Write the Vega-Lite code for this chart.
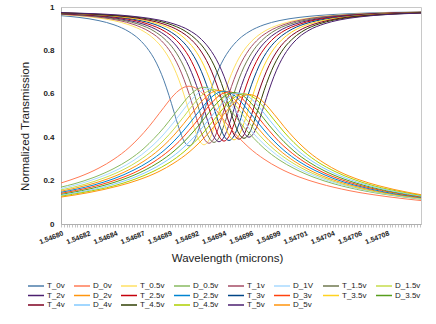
{
"$schema":"https://vega.github.io/schema/vega-lite/v6.json",
"width":360,"height":217,
"autosize":{"type":"none"},
"padding":{"left":61,"top":7,"right":15,"bottom":100},
"background":"white",
"config":{"font":"Liberation Sans","view":{"stroke":"#c8c8c8"}},
"data":{"values":[
{"tn":"T_0v","dn":"D_0v","x":1.5467965,"t":0.960,"d":0.189},
{"tn":"T_0v","dn":"D_0v","x":1.54681234,"t":0.952,"d":0.217},
{"tn":"T_0v","dn":"D_0v","x":1.54682994,"t":0.937,"d":0.258},
{"tn":"T_0v","dn":"D_0v","x":1.54684314,"t":0.918,"d":0.299},
{"tn":"T_0v","dn":"D_0v","x":1.54685634,"t":0.886,"d":0.352},
{"tn":"T_0v","dn":"D_0v","x":1.54686514,"t":0.852,"d":0.397},
{"tn":"T_0v","dn":"D_0v","x":1.54687394,"t":0.799,"d":0.449},
{"tn":"T_0v","dn":"D_0v","x":1.54687834,"t":0.763,"d":0.478},
{"tn":"T_0v","dn":"D_0v","x":1.54688274,"t":0.717,"d":0.508},
{"tn":"T_0v","dn":"D_0v","x":1.54688714,"t":0.660,"d":0.538},
{"tn":"T_0v","dn":"D_0v","x":1.54689154,"t":0.592,"d":0.568},
{"tn":"T_0v","dn":"D_0v","x":1.54689594,"t":0.516,"d":0.595},
{"tn":"T_0v","dn":"D_0v","x":1.54690034,"t":0.441,"d":0.616},
{"tn":"T_0v","dn":"D_0v","x":1.54690474,"t":0.382,"d":0.630},
{"tn":"T_0v","dn":"D_0v","x":1.54690914,"t":0.360,"d":0.635},
{"tn":"T_0v","dn":"D_0v","x":1.54691354,"t":0.382,"d":0.630},
{"tn":"T_0v","dn":"D_0v","x":1.54691794,"t":0.441,"d":0.616},
{"tn":"T_0v","dn":"D_0v","x":1.54692234,"t":0.516,"d":0.595},
{"tn":"T_0v","dn":"D_0v","x":1.54692674,"t":0.592,"d":0.568},
{"tn":"T_0v","dn":"D_0v","x":1.54693114,"t":0.660,"d":0.538},
{"tn":"T_0v","dn":"D_0v","x":1.54693554,"t":0.717,"d":0.508},
{"tn":"T_0v","dn":"D_0v","x":1.54693994,"t":0.763,"d":0.478},
{"tn":"T_0v","dn":"D_0v","x":1.54694434,"t":0.799,"d":0.449},
{"tn":"T_0v","dn":"D_0v","x":1.54695314,"t":0.852,"d":0.397},
{"tn":"T_0v","dn":"D_0v","x":1.54696194,"t":0.886,"d":0.352},
{"tn":"T_0v","dn":"D_0v","x":1.54697514,"t":0.918,"d":0.299},
{"tn":"T_0v","dn":"D_0v","x":1.54698834,"t":0.937,"d":0.258},
{"tn":"T_0v","dn":"D_0v","x":1.54700594,"t":0.952,"d":0.217},
{"tn":"T_0v","dn":"D_0v","x":1.54702354,"t":0.961,"d":0.187},
{"tn":"T_0v","dn":"D_0v","x":1.54704994,"t":0.969,"d":0.154},
{"tn":"T_0v","dn":"D_0v","x":1.54708514,"t":0.975,"d":0.125},
{"tn":"T_0v","dn":"D_0v","x":1.5471133,"t":0.977,"d":0.108},
{"tn":"T_0.5v","dn":"D_0.5v","x":1.5467965,"t":0.965,"d":0.170},
{"tn":"T_0.5v","dn":"D_0.5v","x":1.54680794,"t":0.961,"d":0.185},
{"tn":"T_0.5v","dn":"D_0.5v","x":1.54682554,"t":0.952,"d":0.215},
{"tn":"T_0.5v","dn":"D_0.5v","x":1.54684314,"t":0.937,"d":0.256},
{"tn":"T_0.5v","dn":"D_0.5v","x":1.54685634,"t":0.918,"d":0.296},
{"tn":"T_0.5v","dn":"D_0.5v","x":1.54686954,"t":0.887,"d":0.349},
{"tn":"T_0.5v","dn":"D_0.5v","x":1.54687834,"t":0.853,"d":0.394},
{"tn":"T_0.5v","dn":"D_0.5v","x":1.54688714,"t":0.801,"d":0.445},
{"tn":"T_0.5v","dn":"D_0.5v","x":1.54689154,"t":0.765,"d":0.474},
{"tn":"T_0.5v","dn":"D_0.5v","x":1.54689594,"t":0.719,"d":0.504},
{"tn":"T_0.5v","dn":"D_0.5v","x":1.54690034,"t":0.663,"d":0.534},
{"tn":"T_0.5v","dn":"D_0.5v","x":1.54690474,"t":0.595,"d":0.563},
{"tn":"T_0.5v","dn":"D_0.5v","x":1.54690914,"t":0.520,"d":0.590},
{"tn":"T_0.5v","dn":"D_0.5v","x":1.54691354,"t":0.445,"d":0.611},
{"tn":"T_0.5v","dn":"D_0.5v","x":1.54691794,"t":0.387,"d":0.625},
{"tn":"T_0.5v","dn":"D_0.5v","x":1.54692234,"t":0.365,"d":0.630},
{"tn":"T_0.5v","dn":"D_0.5v","x":1.54692674,"t":0.387,"d":0.625},
{"tn":"T_0.5v","dn":"D_0.5v","x":1.54693114,"t":0.445,"d":0.611},
{"tn":"T_0.5v","dn":"D_0.5v","x":1.54693554,"t":0.520,"d":0.590},
{"tn":"T_0.5v","dn":"D_0.5v","x":1.54693994,"t":0.595,"d":0.563},
{"tn":"T_0.5v","dn":"D_0.5v","x":1.54694434,"t":0.663,"d":0.534},
{"tn":"T_0.5v","dn":"D_0.5v","x":1.54694874,"t":0.719,"d":0.504},
{"tn":"T_0.5v","dn":"D_0.5v","x":1.54695314,"t":0.765,"d":0.474},
{"tn":"T_0.5v","dn":"D_0.5v","x":1.54695754,"t":0.801,"d":0.445},
{"tn":"T_0.5v","dn":"D_0.5v","x":1.54696634,"t":0.853,"d":0.394},
{"tn":"T_0.5v","dn":"D_0.5v","x":1.54697514,"t":0.887,"d":0.349},
{"tn":"T_0.5v","dn":"D_0.5v","x":1.54698834,"t":0.918,"d":0.296},
{"tn":"T_0.5v","dn":"D_0.5v","x":1.54700154,"t":0.937,"d":0.256},
{"tn":"T_0.5v","dn":"D_0.5v","x":1.54701914,"t":0.952,"d":0.215},
{"tn":"T_0.5v","dn":"D_0.5v","x":1.54703674,"t":0.961,"d":0.185},
{"tn":"T_0.5v","dn":"D_0.5v","x":1.54706314,"t":0.969,"d":0.153},
{"tn":"T_0.5v","dn":"D_0.5v","x":1.54709834,"t":0.975,"d":0.124},
{"tn":"T_0.5v","dn":"D_0.5v","x":1.5471133,"t":0.976,"d":0.114},
{"tn":"T_1v","dn":"D_1V","x":1.5467965,"t":0.967,"d":0.163},
{"tn":"T_1v","dn":"D_1V","x":1.54681234,"t":0.961,"d":0.184},
{"tn":"T_1v","dn":"D_1V","x":1.54682994,"t":0.953,"d":0.214},
{"tn":"T_1v","dn":"D_1V","x":1.54684754,"t":0.938,"d":0.254},
{"tn":"T_1v","dn":"D_1V","x":1.54686074,"t":0.919,"d":0.294},
{"tn":"T_1v","dn":"D_1V","x":1.54687394,"t":0.888,"d":0.347},
{"tn":"T_1v","dn":"D_1V","x":1.54688274,"t":0.855,"d":0.390},
{"tn":"T_1v","dn":"D_1V","x":1.54689154,"t":0.803,"d":0.442},
{"tn":"T_1v","dn":"D_1V","x":1.54689594,"t":0.767,"d":0.470},
{"tn":"T_1v","dn":"D_1V","x":1.54690034,"t":0.722,"d":0.500},
{"tn":"T_1v","dn":"D_1V","x":1.54690474,"t":0.666,"d":0.530},
{"tn":"T_1v","dn":"D_1V","x":1.54690914,"t":0.600,"d":0.559},
{"tn":"T_1v","dn":"D_1V","x":1.54691354,"t":0.525,"d":0.585},
{"tn":"T_1v","dn":"D_1V","x":1.54691794,"t":0.451,"d":0.606},
{"tn":"T_1v","dn":"D_1V","x":1.54692234,"t":0.394,"d":0.620},
{"tn":"T_1v","dn":"D_1V","x":1.54692674,"t":0.372,"d":0.625},
{"tn":"T_1v","dn":"D_1V","x":1.54693114,"t":0.394,"d":0.620},
{"tn":"T_1v","dn":"D_1V","x":1.54693554,"t":0.451,"d":0.606},
{"tn":"T_1v","dn":"D_1V","x":1.54693994,"t":0.525,"d":0.585},
{"tn":"T_1v","dn":"D_1V","x":1.54694434,"t":0.600,"d":0.559},
{"tn":"T_1v","dn":"D_1V","x":1.54694874,"t":0.666,"d":0.530},
{"tn":"T_1v","dn":"D_1V","x":1.54695314,"t":0.722,"d":0.500},
{"tn":"T_1v","dn":"D_1V","x":1.54695754,"t":0.767,"d":0.470},
{"tn":"T_1v","dn":"D_1V","x":1.54696194,"t":0.803,"d":0.442},
{"tn":"T_1v","dn":"D_1V","x":1.54697074,"t":0.855,"d":0.390},
{"tn":"T_1v","dn":"D_1V","x":1.54697954,"t":0.888,"d":0.347},
{"tn":"T_1v","dn":"D_1V","x":1.54699274,"t":0.919,"d":0.294},
{"tn":"T_1v","dn":"D_1V","x":1.54700594,"t":0.938,"d":0.254},
{"tn":"T_1v","dn":"D_1V","x":1.54702354,"t":0.953,"d":0.214},
{"tn":"T_1v","dn":"D_1V","x":1.54704114,"t":0.961,"d":0.184},
{"tn":"T_1v","dn":"D_1V","x":1.54706754,"t":0.969,"d":0.152},
{"tn":"T_1v","dn":"D_1V","x":1.54710274,"t":0.975,"d":0.123},
{"tn":"T_1v","dn":"D_1V","x":1.5471133,"t":0.976,"d":0.116},
{"tn":"T_1.5v","dn":"D_1.5v","x":1.5467965,"t":0.968,"d":0.157},
{"tn":"T_1.5v","dn":"D_1.5v","x":1.54681674,"t":0.962,"d":0.182},
{"tn":"T_1.5v","dn":"D_1.5v","x":1.54683434,"t":0.953,"d":0.212},
{"tn":"T_1.5v","dn":"D_1.5v","x":1.54685194,"t":0.938,"d":0.252},
{"tn":"T_1.5v","dn":"D_1.5v","x":1.54686514,"t":0.920,"d":0.292},
{"tn":"T_1.5v","dn":"D_1.5v","x":1.54687834,"t":0.889,"d":0.344},
{"tn":"T_1.5v","dn":"D_1.5v","x":1.54688714,"t":0.855,"d":0.387},
{"tn":"T_1.5v","dn":"D_1.5v","x":1.54689594,"t":0.804,"d":0.438},
{"tn":"T_1.5v","dn":"D_1.5v","x":1.54690034,"t":0.768,"d":0.467},
{"tn":"T_1.5v","dn":"D_1.5v","x":1.54690474,"t":0.724,"d":0.496},
{"tn":"T_1.5v","dn":"D_1.5v","x":1.54690914,"t":0.669,"d":0.526},
{"tn":"T_1.5v","dn":"D_1.5v","x":1.54691354,"t":0.602,"d":0.555},
{"tn":"T_1.5v","dn":"D_1.5v","x":1.54691794,"t":0.528,"d":0.581},
{"tn":"T_1.5v","dn":"D_1.5v","x":1.54692234,"t":0.455,"d":0.601},
{"tn":"T_1.5v","dn":"D_1.5v","x":1.54692674,"t":0.398,"d":0.615},
{"tn":"T_1.5v","dn":"D_1.5v","x":1.54693114,"t":0.376,"d":0.620},
{"tn":"T_1.5v","dn":"D_1.5v","x":1.54693554,"t":0.398,"d":0.615},
{"tn":"T_1.5v","dn":"D_1.5v","x":1.54693994,"t":0.455,"d":0.601},
{"tn":"T_1.5v","dn":"D_1.5v","x":1.54694434,"t":0.528,"d":0.581},
{"tn":"T_1.5v","dn":"D_1.5v","x":1.54694874,"t":0.602,"d":0.555},
{"tn":"T_1.5v","dn":"D_1.5v","x":1.54695314,"t":0.669,"d":0.526},
{"tn":"T_1.5v","dn":"D_1.5v","x":1.54695754,"t":0.724,"d":0.496},
{"tn":"T_1.5v","dn":"D_1.5v","x":1.54696194,"t":0.768,"d":0.467},
{"tn":"T_1.5v","dn":"D_1.5v","x":1.54696634,"t":0.804,"d":0.438},
{"tn":"T_1.5v","dn":"D_1.5v","x":1.54697514,"t":0.855,"d":0.387},
{"tn":"T_1.5v","dn":"D_1.5v","x":1.54698394,"t":0.889,"d":0.344},
{"tn":"T_1.5v","dn":"D_1.5v","x":1.54699714,"t":0.920,"d":0.292},
{"tn":"T_1.5v","dn":"D_1.5v","x":1.54701034,"t":0.938,"d":0.252},
{"tn":"T_1.5v","dn":"D_1.5v","x":1.54702794,"t":0.953,"d":0.212},
{"tn":"T_1.5v","dn":"D_1.5v","x":1.54704554,"t":0.962,"d":0.182},
{"tn":"T_1.5v","dn":"D_1.5v","x":1.54707194,"t":0.969,"d":0.150},
{"tn":"T_1.5v","dn":"D_1.5v","x":1.54710714,"t":0.975,"d":0.122},
{"tn":"T_1.5v","dn":"D_1.5v","x":1.5471133,"t":0.976,"d":0.118},
{"tn":"T_2v","dn":"D_2v","x":1.5467965,"t":0.969,"d":0.151},
{"tn":"T_2v","dn":"D_2v","x":1.54682114,"t":0.962,"d":0.181},
{"tn":"T_2v","dn":"D_2v","x":1.54683874,"t":0.953,"d":0.210},
{"tn":"T_2v","dn":"D_2v","x":1.54685634,"t":0.938,"d":0.250},
{"tn":"T_2v","dn":"D_2v","x":1.54686954,"t":0.920,"d":0.290},
{"tn":"T_2v","dn":"D_2v","x":1.54688274,"t":0.889,"d":0.342},
{"tn":"T_2v","dn":"D_2v","x":1.54689154,"t":0.856,"d":0.385},
{"tn":"T_2v","dn":"D_2v","x":1.54690034,"t":0.805,"d":0.436},
{"tn":"T_2v","dn":"D_2v","x":1.54690474,"t":0.770,"d":0.464},
{"tn":"T_2v","dn":"D_2v","x":1.54690914,"t":0.725,"d":0.493},
{"tn":"T_2v","dn":"D_2v","x":1.54691354,"t":0.670,"d":0.522},
{"tn":"T_2v","dn":"D_2v","x":1.54691794,"t":0.604,"d":0.551},
{"tn":"T_2v","dn":"D_2v","x":1.54692234,"t":0.530,"d":0.577},
{"tn":"T_2v","dn":"D_2v","x":1.54692674,"t":0.457,"d":0.598},
{"tn":"T_2v","dn":"D_2v","x":1.54693114,"t":0.401,"d":0.611},
{"tn":"T_2v","dn":"D_2v","x":1.54693554,"t":0.379,"d":0.616},
{"tn":"T_2v","dn":"D_2v","x":1.54693994,"t":0.401,"d":0.611},
{"tn":"T_2v","dn":"D_2v","x":1.54694434,"t":0.457,"d":0.598},
{"tn":"T_2v","dn":"D_2v","x":1.54694874,"t":0.530,"d":0.577},
{"tn":"T_2v","dn":"D_2v","x":1.54695314,"t":0.604,"d":0.551},
{"tn":"T_2v","dn":"D_2v","x":1.54695754,"t":0.670,"d":0.522},
{"tn":"T_2v","dn":"D_2v","x":1.54696194,"t":0.725,"d":0.493},
{"tn":"T_2v","dn":"D_2v","x":1.54696634,"t":0.770,"d":0.464},
{"tn":"T_2v","dn":"D_2v","x":1.54697074,"t":0.805,"d":0.436},
{"tn":"T_2v","dn":"D_2v","x":1.54697954,"t":0.856,"d":0.385},
{"tn":"T_2v","dn":"D_2v","x":1.54698834,"t":0.889,"d":0.342},
{"tn":"T_2v","dn":"D_2v","x":1.54700154,"t":0.920,"d":0.290},
{"tn":"T_2v","dn":"D_2v","x":1.54701474,"t":0.938,"d":0.250},
{"tn":"T_2v","dn":"D_2v","x":1.54703234,"t":0.953,"d":0.210},
{"tn":"T_2v","dn":"D_2v","x":1.54704994,"t":0.962,"d":0.181},
{"tn":"T_2v","dn":"D_2v","x":1.54707634,"t":0.969,"d":0.149},
{"tn":"T_2v","dn":"D_2v","x":1.5471133,"t":0.975,"d":0.120},
{"tn":"T_2.5v","dn":"D_2.5v","x":1.5467965,"t":0.970,"d":0.146},
{"tn":"T_2.5v","dn":"D_2.5v","x":1.54682554,"t":0.962,"d":0.180},
{"tn":"T_2.5v","dn":"D_2.5v","x":1.54684314,"t":0.953,"d":0.209},
{"tn":"T_2.5v","dn":"D_2.5v","x":1.54686074,"t":0.939,"d":0.249},
{"tn":"T_2.5v","dn":"D_2.5v","x":1.54687394,"t":0.920,"d":0.288},
{"tn":"T_2.5v","dn":"D_2.5v","x":1.54688714,"t":0.890,"d":0.339},
{"tn":"T_2.5v","dn":"D_2.5v","x":1.54689594,"t":0.857,"d":0.382},
{"tn":"T_2.5v","dn":"D_2.5v","x":1.54690474,"t":0.806,"d":0.433},
{"tn":"T_2.5v","dn":"D_2.5v","x":1.54690914,"t":0.771,"d":0.461},
{"tn":"T_2.5v","dn":"D_2.5v","x":1.54691354,"t":0.726,"d":0.490},
{"tn":"T_2.5v","dn":"D_2.5v","x":1.54691794,"t":0.672,"d":0.519},
{"tn":"T_2.5v","dn":"D_2.5v","x":1.54692234,"t":0.606,"d":0.547},
{"tn":"T_2.5v","dn":"D_2.5v","x":1.54692674,"t":0.533,"d":0.573},
{"tn":"T_2.5v","dn":"D_2.5v","x":1.54693114,"t":0.460,"d":0.594},
{"tn":"T_2.5v","dn":"D_2.5v","x":1.54693554,"t":0.404,"d":0.607},
{"tn":"T_2.5v","dn":"D_2.5v","x":1.54693994,"t":0.382,"d":0.612},
{"tn":"T_2.5v","dn":"D_2.5v","x":1.54694434,"t":0.404,"d":0.607},
{"tn":"T_2.5v","dn":"D_2.5v","x":1.54694874,"t":0.460,"d":0.594},
{"tn":"T_2.5v","dn":"D_2.5v","x":1.54695314,"t":0.533,"d":0.573},
{"tn":"T_2.5v","dn":"D_2.5v","x":1.54695754,"t":0.606,"d":0.547},
{"tn":"T_2.5v","dn":"D_2.5v","x":1.54696194,"t":0.672,"d":0.519},
{"tn":"T_2.5v","dn":"D_2.5v","x":1.54696634,"t":0.726,"d":0.490},
{"tn":"T_2.5v","dn":"D_2.5v","x":1.54697074,"t":0.771,"d":0.461},
{"tn":"T_2.5v","dn":"D_2.5v","x":1.54697514,"t":0.806,"d":0.433},
{"tn":"T_2.5v","dn":"D_2.5v","x":1.54698394,"t":0.857,"d":0.382},
{"tn":"T_2.5v","dn":"D_2.5v","x":1.54699274,"t":0.890,"d":0.339},
{"tn":"T_2.5v","dn":"D_2.5v","x":1.54700594,"t":0.920,"d":0.288},
{"tn":"T_2.5v","dn":"D_2.5v","x":1.54701914,"t":0.939,"d":0.249},
{"tn":"T_2.5v","dn":"D_2.5v","x":1.54703674,"t":0.953,"d":0.209},
{"tn":"T_2.5v","dn":"D_2.5v","x":1.54705434,"t":0.962,"d":0.180},
{"tn":"T_2.5v","dn":"D_2.5v","x":1.54708074,"t":0.970,"d":0.148},
{"tn":"T_2.5v","dn":"D_2.5v","x":1.5471133,"t":0.975,"d":0.122},
{"tn":"T_3v","dn":"D_3v","x":1.5467965,"t":0.971,"d":0.141},
{"tn":"T_3v","dn":"D_3v","x":1.54680354,"t":0.970,"d":0.148},
{"tn":"T_3v","dn":"D_3v","x":1.54682994,"t":0.962,"d":0.179},
{"tn":"T_3v","dn":"D_3v","x":1.54684754,"t":0.953,"d":0.208},
{"tn":"T_3v","dn":"D_3v","x":1.54686514,"t":0.939,"d":0.247},
{"tn":"T_3v","dn":"D_3v","x":1.54687834,"t":0.921,"d":0.287},
{"tn":"T_3v","dn":"D_3v","x":1.54689154,"t":0.890,"d":0.338},
{"tn":"T_3v","dn":"D_3v","x":1.54690034,"t":0.857,"d":0.380},
{"tn":"T_3v","dn":"D_3v","x":1.54690914,"t":0.807,"d":0.431},
{"tn":"T_3v","dn":"D_3v","x":1.54691354,"t":0.772,"d":0.458},
{"tn":"T_3v","dn":"D_3v","x":1.54691794,"t":0.728,"d":0.487},
{"tn":"T_3v","dn":"D_3v","x":1.54692234,"t":0.673,"d":0.516},
{"tn":"T_3v","dn":"D_3v","x":1.54692674,"t":0.608,"d":0.545},
{"tn":"T_3v","dn":"D_3v","x":1.54693114,"t":0.535,"d":0.570},
{"tn":"T_3v","dn":"D_3v","x":1.54693554,"t":0.462,"d":0.591},
{"tn":"T_3v","dn":"D_3v","x":1.54693994,"t":0.406,"d":0.604},
{"tn":"T_3v","dn":"D_3v","x":1.54694434,"t":0.385,"d":0.609},
{"tn":"T_3v","dn":"D_3v","x":1.54694874,"t":0.406,"d":0.604},
{"tn":"T_3v","dn":"D_3v","x":1.54695314,"t":0.462,"d":0.591},
{"tn":"T_3v","dn":"D_3v","x":1.54695754,"t":0.535,"d":0.570},
{"tn":"T_3v","dn":"D_3v","x":1.54696194,"t":0.608,"d":0.545},
{"tn":"T_3v","dn":"D_3v","x":1.54696634,"t":0.673,"d":0.516},
{"tn":"T_3v","dn":"D_3v","x":1.54697074,"t":0.728,"d":0.487},
{"tn":"T_3v","dn":"D_3v","x":1.54697514,"t":0.772,"d":0.458},
{"tn":"T_3v","dn":"D_3v","x":1.54697954,"t":0.807,"d":0.431},
{"tn":"T_3v","dn":"D_3v","x":1.54698834,"t":0.857,"d":0.380},
{"tn":"T_3v","dn":"D_3v","x":1.54699714,"t":0.890,"d":0.338},
{"tn":"T_3v","dn":"D_3v","x":1.54701034,"t":0.921,"d":0.287},
{"tn":"T_3v","dn":"D_3v","x":1.54702354,"t":0.939,"d":0.247},
{"tn":"T_3v","dn":"D_3v","x":1.54704114,"t":0.953,"d":0.208},
{"tn":"T_3v","dn":"D_3v","x":1.54705874,"t":0.962,"d":0.179},
{"tn":"T_3v","dn":"D_3v","x":1.54708514,"t":0.970,"d":0.148},
{"tn":"T_3v","dn":"D_3v","x":1.5471133,"t":0.974,"d":0.124},
{"tn":"T_3.5v","dn":"D_3.5v","x":1.5467965,"t":0.972,"d":0.136},
{"tn":"T_3.5v","dn":"D_3.5v","x":1.54680794,"t":0.970,"d":0.147},
{"tn":"T_3.5v","dn":"D_3.5v","x":1.54683434,"t":0.962,"d":0.178},
{"tn":"T_3.5v","dn":"D_3.5v","x":1.54685194,"t":0.953,"d":0.207},
{"tn":"T_3.5v","dn":"D_3.5v","x":1.54686954,"t":0.939,"d":0.246},
{"tn":"T_3.5v","dn":"D_3.5v","x":1.54688274,"t":0.921,"d":0.285},
{"tn":"T_3.5v","dn":"D_3.5v","x":1.54689594,"t":0.891,"d":0.336},
{"tn":"T_3.5v","dn":"D_3.5v","x":1.54690474,"t":0.858,"d":0.379},
{"tn":"T_3.5v","dn":"D_3.5v","x":1.54691354,"t":0.808,"d":0.429},
{"tn":"T_3.5v","dn":"D_3.5v","x":1.54691794,"t":0.773,"d":0.456},
{"tn":"T_3.5v","dn":"D_3.5v","x":1.54692234,"t":0.729,"d":0.485},
{"tn":"T_3.5v","dn":"D_3.5v","x":1.54692674,"t":0.675,"d":0.514},
{"tn":"T_3.5v","dn":"D_3.5v","x":1.54693114,"t":0.610,"d":0.542},
{"tn":"T_3.5v","dn":"D_3.5v","x":1.54693554,"t":0.537,"d":0.567},
{"tn":"T_3.5v","dn":"D_3.5v","x":1.54693994,"t":0.465,"d":0.588},
{"tn":"T_3.5v","dn":"D_3.5v","x":1.54694434,"t":0.409,"d":0.601},
{"tn":"T_3.5v","dn":"D_3.5v","x":1.54694874,"t":0.388,"d":0.606},
{"tn":"T_3.5v","dn":"D_3.5v","x":1.54695314,"t":0.409,"d":0.601},
{"tn":"T_3.5v","dn":"D_3.5v","x":1.54695754,"t":0.465,"d":0.588},
{"tn":"T_3.5v","dn":"D_3.5v","x":1.54696194,"t":0.537,"d":0.567},
{"tn":"T_3.5v","dn":"D_3.5v","x":1.54696634,"t":0.610,"d":0.542},
{"tn":"T_3.5v","dn":"D_3.5v","x":1.54697074,"t":0.675,"d":0.514},
{"tn":"T_3.5v","dn":"D_3.5v","x":1.54697514,"t":0.729,"d":0.485},
{"tn":"T_3.5v","dn":"D_3.5v","x":1.54697954,"t":0.773,"d":0.456},
{"tn":"T_3.5v","dn":"D_3.5v","x":1.54698394,"t":0.808,"d":0.429},
{"tn":"T_3.5v","dn":"D_3.5v","x":1.54699274,"t":0.858,"d":0.379},
{"tn":"T_3.5v","dn":"D_3.5v","x":1.54700154,"t":0.891,"d":0.336},
{"tn":"T_3.5v","dn":"D_3.5v","x":1.54701474,"t":0.921,"d":0.285},
{"tn":"T_3.5v","dn":"D_3.5v","x":1.54702794,"t":0.939,"d":0.246},
{"tn":"T_3.5v","dn":"D_3.5v","x":1.54704554,"t":0.953,"d":0.207},
{"tn":"T_3.5v","dn":"D_3.5v","x":1.54706314,"t":0.962,"d":0.178},
{"tn":"T_3.5v","dn":"D_3.5v","x":1.54708954,"t":0.970,"d":0.147},
{"tn":"T_3.5v","dn":"D_3.5v","x":1.5471133,"t":0.974,"d":0.127},
{"tn":"T_4v","dn":"D_4v","x":1.5467965,"t":0.973,"d":0.132},
{"tn":"T_4v","dn":"D_4v","x":1.54681234,"t":0.970,"d":0.146},
{"tn":"T_4v","dn":"D_4v","x":1.54683874,"t":0.962,"d":0.177},
{"tn":"T_4v","dn":"D_4v","x":1.54685634,"t":0.954,"d":0.206},
{"tn":"T_4v","dn":"D_4v","x":1.54687394,"t":0.939,"d":0.245},
{"tn":"T_4v","dn":"D_4v","x":1.54688714,"t":0.921,"d":0.284},
{"tn":"T_4v","dn":"D_4v","x":1.54690034,"t":0.891,"d":0.334},
{"tn":"T_4v","dn":"D_4v","x":1.54690914,"t":0.859,"d":0.377},
{"tn":"T_4v","dn":"D_4v","x":1.54691794,"t":0.809,"d":0.426},
{"tn":"T_4v","dn":"D_4v","x":1.54692234,"t":0.774,"d":0.454},
{"tn":"T_4v","dn":"D_4v","x":1.54692674,"t":0.730,"d":0.482},
{"tn":"T_4v","dn":"D_4v","x":1.54693114,"t":0.676,"d":0.511},
{"tn":"T_4v","dn":"D_4v","x":1.54693554,"t":0.612,"d":0.539},
{"tn":"T_4v","dn":"D_4v","x":1.54693994,"t":0.539,"d":0.565},
{"tn":"T_4v","dn":"D_4v","x":1.54694434,"t":0.468,"d":0.585},
{"tn":"T_4v","dn":"D_4v","x":1.54694874,"t":0.412,"d":0.598},
{"tn":"T_4v","dn":"D_4v","x":1.54695314,"t":0.391,"d":0.603},
{"tn":"T_4v","dn":"D_4v","x":1.54695754,"t":0.412,"d":0.598},
{"tn":"T_4v","dn":"D_4v","x":1.54696194,"t":0.468,"d":0.585},
{"tn":"T_4v","dn":"D_4v","x":1.54696634,"t":0.539,"d":0.565},
{"tn":"T_4v","dn":"D_4v","x":1.54697074,"t":0.612,"d":0.539},
{"tn":"T_4v","dn":"D_4v","x":1.54697514,"t":0.676,"d":0.511},
{"tn":"T_4v","dn":"D_4v","x":1.54697954,"t":0.730,"d":0.482},
{"tn":"T_4v","dn":"D_4v","x":1.54698394,"t":0.774,"d":0.454},
{"tn":"T_4v","dn":"D_4v","x":1.54698834,"t":0.809,"d":0.426},
{"tn":"T_4v","dn":"D_4v","x":1.54699714,"t":0.859,"d":0.377},
{"tn":"T_4v","dn":"D_4v","x":1.54700594,"t":0.891,"d":0.334},
{"tn":"T_4v","dn":"D_4v","x":1.54701914,"t":0.921,"d":0.284},
{"tn":"T_4v","dn":"D_4v","x":1.54703234,"t":0.939,"d":0.245},
{"tn":"T_4v","dn":"D_4v","x":1.54704994,"t":0.954,"d":0.206},
{"tn":"T_4v","dn":"D_4v","x":1.54706754,"t":0.962,"d":0.177},
{"tn":"T_4v","dn":"D_4v","x":1.54709394,"t":0.970,"d":0.146},
{"tn":"T_4v","dn":"D_4v","x":1.5471133,"t":0.973,"d":0.129},
{"tn":"T_4.5v","dn":"D_4.5v","x":1.5467965,"t":0.973,"d":0.128},
{"tn":"T_4.5v","dn":"D_4.5v","x":1.54681674,"t":0.970,"d":0.146},
{"tn":"T_4.5v","dn":"D_4.5v","x":1.54684314,"t":0.962,"d":0.176},
{"tn":"T_4.5v","dn":"D_4.5v","x":1.54686074,"t":0.954,"d":0.205},
{"tn":"T_4.5v","dn":"D_4.5v","x":1.54687834,"t":0.940,"d":0.244},
{"tn":"T_4.5v","dn":"D_4.5v","x":1.54689154,"t":0.922,"d":0.282},
{"tn":"T_4.5v","dn":"D_4.5v","x":1.54690474,"t":0.892,"d":0.333},
{"tn":"T_4.5v","dn":"D_4.5v","x":1.54691354,"t":0.859,"d":0.375},
{"tn":"T_4.5v","dn":"D_4.5v","x":1.54692234,"t":0.810,"d":0.424},
{"tn":"T_4.5v","dn":"D_4.5v","x":1.54692674,"t":0.775,"d":0.452},
{"tn":"T_4.5v","dn":"D_4.5v","x":1.54693114,"t":0.732,"d":0.480},
{"tn":"T_4.5v","dn":"D_4.5v","x":1.54693554,"t":0.678,"d":0.509},
{"tn":"T_4.5v","dn":"D_4.5v","x":1.54693994,"t":0.614,"d":0.537},
{"tn":"T_4.5v","dn":"D_4.5v","x":1.54694434,"t":0.542,"d":0.562},
{"tn":"T_4.5v","dn":"D_4.5v","x":1.54694874,"t":0.471,"d":0.582},
{"tn":"T_4.5v","dn":"D_4.5v","x":1.54695314,"t":0.416,"d":0.595},
{"tn":"T_4.5v","dn":"D_4.5v","x":1.54695754,"t":0.395,"d":0.600},
{"tn":"T_4.5v","dn":"D_4.5v","x":1.54696194,"t":0.416,"d":0.595},
{"tn":"T_4.5v","dn":"D_4.5v","x":1.54696634,"t":0.471,"d":0.582},
{"tn":"T_4.5v","dn":"D_4.5v","x":1.54697074,"t":0.542,"d":0.562},
{"tn":"T_4.5v","dn":"D_4.5v","x":1.54697514,"t":0.614,"d":0.537},
{"tn":"T_4.5v","dn":"D_4.5v","x":1.54697954,"t":0.678,"d":0.509},
{"tn":"T_4.5v","dn":"D_4.5v","x":1.54698394,"t":0.732,"d":0.480},
{"tn":"T_4.5v","dn":"D_4.5v","x":1.54698834,"t":0.775,"d":0.452},
{"tn":"T_4.5v","dn":"D_4.5v","x":1.54699274,"t":0.810,"d":0.424},
{"tn":"T_4.5v","dn":"D_4.5v","x":1.54700154,"t":0.859,"d":0.375},
{"tn":"T_4.5v","dn":"D_4.5v","x":1.54701034,"t":0.892,"d":0.333},
{"tn":"T_4.5v","dn":"D_4.5v","x":1.54702354,"t":0.922,"d":0.282},
{"tn":"T_4.5v","dn":"D_4.5v","x":1.54703674,"t":0.940,"d":0.244},
{"tn":"T_4.5v","dn":"D_4.5v","x":1.54705434,"t":0.954,"d":0.205},
{"tn":"T_4.5v","dn":"D_4.5v","x":1.54707194,"t":0.962,"d":0.176},
{"tn":"T_4.5v","dn":"D_4.5v","x":1.54709834,"t":0.970,"d":0.146},
{"tn":"T_4.5v","dn":"D_4.5v","x":1.5471133,"t":0.973,"d":0.132},
{"tn":"T_5v","dn":"D_5v","x":1.5467965,"t":0.974,"d":0.124},
{"tn":"T_5v","dn":"D_5v","x":1.54682114,"t":0.970,"d":0.145},
{"tn":"T_5v","dn":"D_5v","x":1.54684754,"t":0.963,"d":0.176},
{"tn":"T_5v","dn":"D_5v","x":1.54686514,"t":0.954,"d":0.204},
{"tn":"T_5v","dn":"D_5v","x":1.54688274,"t":0.940,"d":0.242},
{"tn":"T_5v","dn":"D_5v","x":1.54689594,"t":0.922,"d":0.281},
{"tn":"T_5v","dn":"D_5v","x":1.54690914,"t":0.893,"d":0.331},
{"tn":"T_5v","dn":"D_5v","x":1.54691794,"t":0.861,"d":0.373},
{"tn":"T_5v","dn":"D_5v","x":1.54692674,"t":0.811,"d":0.422},
{"tn":"T_5v","dn":"D_5v","x":1.54693114,"t":0.777,"d":0.449},
{"tn":"T_5v","dn":"D_5v","x":1.54693554,"t":0.734,"d":0.478},
{"tn":"T_5v","dn":"D_5v","x":1.54693994,"t":0.681,"d":0.506},
{"tn":"T_5v","dn":"D_5v","x":1.54694434,"t":0.617,"d":0.534},
{"tn":"T_5v","dn":"D_5v","x":1.54694874,"t":0.546,"d":0.559},
{"tn":"T_5v","dn":"D_5v","x":1.54695314,"t":0.475,"d":0.579},
{"tn":"T_5v","dn":"D_5v","x":1.54695754,"t":0.421,"d":0.592},
{"tn":"T_5v","dn":"D_5v","x":1.54696194,"t":0.400,"d":0.597},
{"tn":"T_5v","dn":"D_5v","x":1.54696634,"t":0.421,"d":0.592},
{"tn":"T_5v","dn":"D_5v","x":1.54697074,"t":0.475,"d":0.579},
{"tn":"T_5v","dn":"D_5v","x":1.54697514,"t":0.546,"d":0.559},
{"tn":"T_5v","dn":"D_5v","x":1.54697954,"t":0.617,"d":0.534},
{"tn":"T_5v","dn":"D_5v","x":1.54698394,"t":0.681,"d":0.506},
{"tn":"T_5v","dn":"D_5v","x":1.54698834,"t":0.734,"d":0.478},
{"tn":"T_5v","dn":"D_5v","x":1.54699274,"t":0.777,"d":0.449},
{"tn":"T_5v","dn":"D_5v","x":1.54699714,"t":0.811,"d":0.422},
{"tn":"T_5v","dn":"D_5v","x":1.54700594,"t":0.861,"d":0.373},
{"tn":"T_5v","dn":"D_5v","x":1.54701474,"t":0.893,"d":0.331},
{"tn":"T_5v","dn":"D_5v","x":1.54702794,"t":0.922,"d":0.281},
{"tn":"T_5v","dn":"D_5v","x":1.54704114,"t":0.940,"d":0.242},
{"tn":"T_5v","dn":"D_5v","x":1.54705874,"t":0.954,"d":0.204},
{"tn":"T_5v","dn":"D_5v","x":1.54707634,"t":0.963,"d":0.176},
{"tn":"T_5v","dn":"D_5v","x":1.54710274,"t":0.970,"d":0.145},
{"tn":"T_5v","dn":"D_5v","x":1.5471133,"t":0.972,"d":0.135}
]},
"encoding":{
 "x":{"field":"x","type":"quantitative","title":"Wavelength (microns)",
  "scale":{"domain":[1.5467965,1.5471133],"nice":false,"zero":false},
  "axis":{"values":[1.5467966,1.54679899,1.54680138,1.54680377,1.54680616,1.54680855,1.54681094,1.54681333,1.54681572,1.54681811,1.5468205,1.54682289,1.54682528,1.54682767,1.54683006,1.54683245,1.54683484,1.54683723,1.54683962,1.54684201,1.5468444,1.54684679,1.54684918,1.54685157,1.54685396,1.54685635,1.54685874,1.54686113,1.54686352,1.54686591,1.5468683,1.54687069,1.54687308,1.54687547,1.54687786,1.54688025,1.54688264,1.54688503,1.54688742,1.54688981,1.5468922,1.54689459,1.54689698,1.54689937,1.54690176,1.54690415,1.54690654,1.54690893,1.54691132,1.54691371,1.5469161,1.54691849,1.54692088,1.54692327,1.54692566,1.54692805,1.54693044,1.54693283,1.54693522,1.54693761,1.54694,1.54694239,1.54694478,1.54694717,1.54694956,1.54695195,1.54695434,1.54695673,1.54695912,1.54696151,1.5469639,1.54696629,1.54696868,1.54697107,1.54697346,1.54697585,1.54697824,1.54698063,1.54698302,1.54698541,1.5469878,1.54699019,1.54699258,1.54699497,1.54699736,1.54699975,1.54700214,1.54700453,1.54700692,1.54700931,1.5470117,1.54701409,1.54701648,1.54701887,1.54702126,1.54702365,1.54702604,1.54702843,1.54703082,1.54703321,1.5470356,1.54703799,1.54704038,1.54704277,1.54704516,1.54704755,1.54704994,1.54705233,1.54705472,1.54705711,1.5470595,1.54706189,1.54706428,1.54706667,1.54706906,1.54707145,1.54707384,1.54707623,1.54707862,1.54708101,1.5470834,1.54708579,1.54708818,1.54709057,1.54709296,1.54709535,1.54709774,1.54710013,1.54710252,1.54710491,1.5471073,1.54710969,1.54711208],
   "labelExpr":"(round((datum.value-1.5467966)/0.00000239)%10==0 && datum.value<1.5471) ? format(datum.value,'.5f') : ''",
   "labelAngle":-22,"labelAlign":"right","labelBaseline":"top","labelFontSize":7,"labelFontWeight":"bold","labelColor":"#222222","labelPadding":2,
   "labelOverlap":false,"labelFlush":false,"labelBound":false,
   "tickSize":3,"tickColor":"#c4c4c4","domainColor":"#b0b0b0","grid":false,
   "titleFontSize":11.5,"titleFontWeight":"normal","titleColor":"#222222","titleX":166,"titleY":37,"titleBaseline":"alphabetic","titleAlign":"center"}},
 "color":{"type":"nominal",
  "scale":{"domain":["T_0v","D_0v","T_0.5v","D_0.5v","T_1v","D_1V","T_1.5v","D_1.5v","T_2v","D_2v","T_2.5v","D_2.5v","T_3v","D_3v","T_3.5v","D_3.5v","T_4v","D_4v","T_4.5v","D_4.5v","T_5v","D_5v"],
   "range":["#4d7daa","#ff7b56","#ffe063","#89ba60","#a54d64","#a8daff","#6f794f","#c6dd4d","#4b1f6f","#ff950e","#c5000b","#0084d1","#004586","#ff420e","#ffd320","#579d1c","#7e0021","#83caff","#314004","#aecf00","#4b1f6f","#ff950e"]},
  "legend":{"orient":"none","legendX":-30,"legendY":274,"direction":"horizontal","columns":8,"title":null,
   "symbolType":"M-2,0H2","symbolSize":64,"symbolStrokeWidth":1.5,"labelFontSize":8,"labelColor":"#222222","labelOffset":6,
   "columnPadding":6,"rowPadding":0.5}}
},
"layer":[
 {"mark":{"type":"line","interpolate":"monotone","strokeWidth":1,"clip":true},
  "encoding":{
   "y":{"field":"t","type":"quantitative","title":"Normalized Transmission",
    "scale":{"domain":[0,1]},
    "axis":{"values":[0,0.2,0.4,0.6,0.8,1],"format":"~g","labelFontSize":8,"labelFontWeight":"bold","labelColor":"#222222","ticks":false,"labelPadding":7,"domainColor":"#b0b0b0","grid":false,
     "titleFontSize":11.5,"titleFontWeight":"normal","titleColor":"#222222","titleX":-36,"titleY":119,"titleAngle":-90,"titleAlign":"center","titleBaseline":"middle"}},
   "color":{"field":"tn"}}},
 {"mark":{"type":"line","interpolate":"monotone","strokeWidth":1,"clip":true},
  "encoding":{
   "y":{"field":"d","type":"quantitative"},
   "color":{"field":"dn"}}}
]
}
